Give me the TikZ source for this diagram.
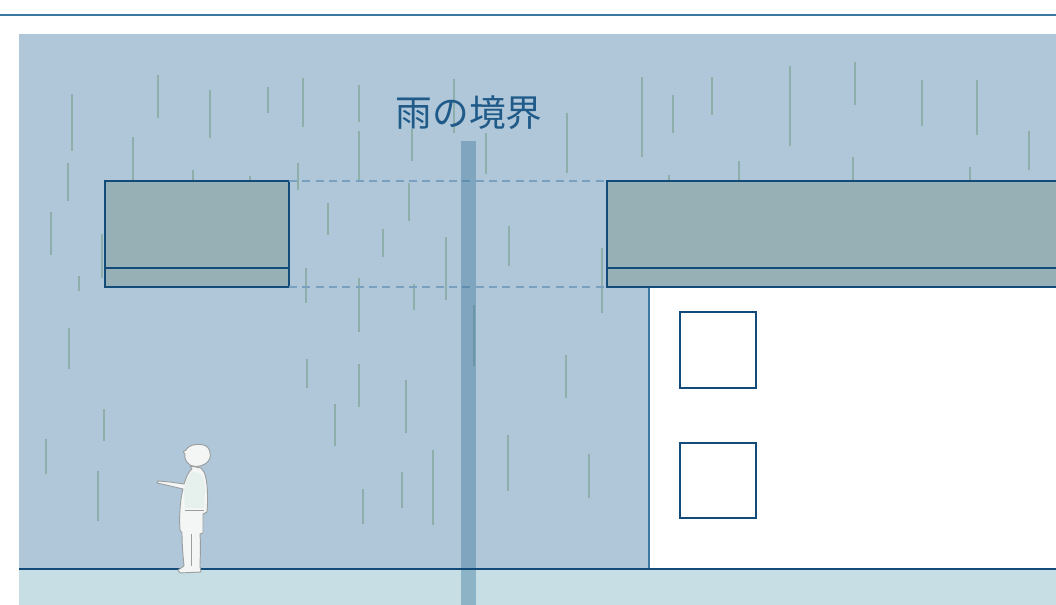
\documentclass[tikz,border=0pt]{standalone}
\usepackage{fontspec}
\newfontfamily\cjk{Noto Sans CJK JP}
\definecolor{rulecol}{HTML}{3A78A0}
\definecolor{skycol}{HTML}{AFC7D9}
\definecolor{groundcol}{HTML}{C7DFE4}
\definecolor{inkcol}{HTML}{124A7A}
\definecolor{canopycol}{HTML}{97B0B5}
\definecolor{raincol}{HTML}{8DAEA9}
\definecolor{bandcol}{HTML}{37729A}
\definecolor{dashcol}{HTML}{7AA0C0}
\definecolor{titlecol}{HTML}{1F5A88}
\definecolor{wallcol}{HTML}{3D78A0}
\definecolor{skincol}{HTML}{F4F6F5}
\definecolor{shirtcol}{HTML}{E6F0EC}
\definecolor{outlinecol}{HTML}{9A9E9E}
\begin{document}
\begin{tikzpicture}[x=0.75pt,y=-0.75pt,
  rain/.style={draw=raincol,line width=1.5pt},
  canopy/.style={fill=canopycol,draw=inkcol,line width=1.5pt},
  window/.style={fill=white,draw=inkcol,line width=1.2pt},
  guide/.style={draw=dashcol,line width=1.1pt,dash pattern=on 6pt off 4pt},
  figure/.style={fill=skincol,draw=outlinecol,line width=0.7pt,line join=round}]
\useasboundingbox (0,0) rectangle (1056,605);
\clip (0,0) rectangle (1056,605);

% header rule
\draw[rulecol,line width=2.2pt] (0,15) -- (1056,15);

% sky and ground
\fill[skycol] (19,34) rectangle (1056,569);
\fill[groundcol] (19,569) rectangle (1056,605);

% falling rain
\foreach \x/\a/\b in {
  72/94/151, 158/75/118, 210/90/138, 268/87/113, 303/78/127,
  133/137/185, 68/163/201, 193/170/185, 250/176/185, 298/163/190,
  51/212/255, 102/234/278, 328/203/235, 79/276/291, 306/268/303,
  69/328/369, 104/409/441, 46/439/474, 98/471/521, 307/359/388,
  335/404/446,
  359/85/122, 359/131/180, 412/129/161, 454/79/133, 486/133/174,
  567/113/173, 642/77/157, 409/183/221, 383/229/257, 446/237/300,
  509/226/266, 602/248/313, 359/278/332, 414/284/310,
  359/364/407, 406/380/433, 433/450/525, 402/472/508, 363/489/524,
  474/305/366, 566/355/398, 508/435/491, 589/454/498,
  673/95/133, 712/77/115, 790/66/146, 855/62/105, 922/80/126,
  977/80/135, 1029/131/170, 669/175/185, 739/161/185, 853/157/185,
  970/167/185}
  \draw[rain] (\x,\a) -- (\x,\b);

% building
\fill[white] (649,287) rectangle (1060,569);
\draw[wallcol,line width=0.8pt] (649,287) -- (649,569);
\draw[window] (680,312) rectangle (756,388);
\draw[window] (680,443) rectangle (756,518);

% canopies
\coordinate (LTL) at (105,181);
\coordinate (LTR) at (289,181);
\coordinate (LBR) at (289,287);
\coordinate (RTL) at (607,181);
\coordinate (RBL) at (607,287);
\draw[canopy] (LTL) rectangle (LBR);
\draw[inkcol,line width=1.5pt] (105,268) -- (289,268);
\draw[canopy] (RTL) rectangle (1070,287);
\draw[inkcol,line width=1.5pt] (607,268) -- (1070,268);

% projection of the canopy edges
\draw[guide] (LTR) -- (RTL);
\draw[guide] (LBR) -- (RBL);

% boundary band
\fill[bandcol,opacity=0.4] (461,141) rectangle (476,605);

% ground line
\draw[inkcol,line width=1.5pt] (19,569) -- (1056,569);

% child looking up at the rain
\draw[figure] (190,466) -- (201,468) -- (204,472)
  .. controls (208,480) and (208,500) .. (207,512)
  -- (203,514) -- (203,533) -- (200,534)
  .. controls (201,548) and (200,560) .. (200,566)
  -- (201,572) -- (180,573) -- (178,570) -- (184,566)
  .. controls (183,556) and (182,545) .. (182,533)
  -- (180,530) .. controls (179,518) and (180,500) .. (183,489)
  -- (166,485) -- (157,483) -- (158,481) -- (170,482)
  -- (184,484) .. controls (186,478) and (188,472) .. (192,469) -- cycle;
\fill[shirtcol] (193,472) .. controls (200,472) and (205,476) .. (205,490)
  -- (204,508) -- (185,508) -- (184,490) .. controls (186,480) and (189,474) .. (193,472) -- cycle;
\draw[figure] (190,465) .. controls (186,462) and (184,458) .. (185,454)
  -- (183,452) -- (186,450)
  .. controls (189,444) and (200,443) .. (206,446)
  .. controls (212,450) and (212,460) .. (205,464)
  .. controls (200,467) and (194,467) .. (190,465) -- cycle;
\draw[outlinecol,line width=0.4pt] (185,510) -- (204,510);
\draw[outlinecol,line width=0.4pt] (191,534) -- (191,566);

% title
\node[text=titlecol,font=\cjk\fontsize{27.5}{32}\selectfont] (title) at (469,113) {雨の境界};
\end{tikzpicture}
\end{document}
